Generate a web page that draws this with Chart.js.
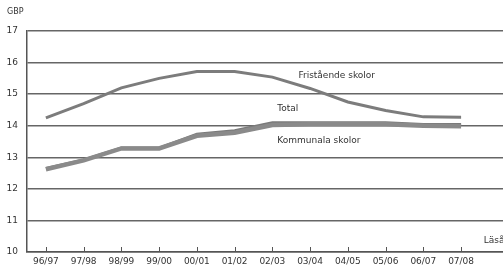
<!DOCTYPE html>
<html>
<head>
<meta charset="utf-8">
<script src="https://cdn.jsdelivr.net/npm/chart.js@4"></script>
<style>
  html, body { margin: 0; padding: 0; background: #fff; }
  #wrap { width: 503px; height: 274px; }
</style>
</head>
<body>
<div id="wrap"><canvas id="GraficaCanvas" width="503" height="274"></canvas></div>
<script>
const lasar = ["96/97", "97/98", "98/99", "99/00", "00/01", "01/02", "02/03", "03/04", "04/05", "05/06", "06/07", "07/08"];
const fristaende = [14.25, 14.7, 15.2, 15.5, 15.72, 15.72, 15.54, 15.18, 14.75, 14.48, 14.28, 14.27];
const total = [12.65, 12.92, 13.3, 13.3, 13.74, 13.85, 14.1, 14.1, 14.1, 14.1, 14.05, 14.05];
const kommunala = [12.62, 12.9, 13.28, 13.28, 13.68, 13.78, 14.02, 14.05, 14.05, 14.05, 14.0, 13.98];

const etiketter = [
  { text: "Fristående skolor", x: 6.69, y: 15.6 },
  { text: "Total", x: 6.13, y: 14.53 },
  { text: "Kommunala skolor", x: 6.13, y: 13.52 },
  { text: "Läsår", x: 11.6, y: 10.35 },
];

const punkter = (serie) => serie.map((v, i) => ({ x: i, y: v }));

const textPlugin = {
  id: "textPlugin",
  afterDraw(chart) {
    const { ctx, scales } = chart;
    ctx.save();
    ctx.fillStyle = "#333";
    ctx.font = "9px 'DejaVu Sans'";
    ctx.textBaseline = "middle";
    ctx.textAlign = "left";
    etiketter.forEach((e) => {
      ctx.fillText(e.text, scales.x.getPixelForValue(e.x), scales.y.getPixelForValue(e.y));
    });
    ctx.font = "8px 'DejaVu Sans'";
    ctx.fillText("GBP", 7, 12);
    // små streck uppåt från x-axeln
    const bottom = chart.chartArea.bottom;
    ctx.strokeStyle = "#555";
    ctx.lineWidth = 1;
    lasar.forEach((l, i) => {
      const px = Math.round(scales.x.getPixelForValue(i)) + 0.5;
      ctx.beginPath();
      ctx.moveTo(px, bottom);
      ctx.lineTo(px, bottom - 5);
      ctx.stroke();
    });
    ctx.restore();
  },
};

const ctx = document.getElementById("GraficaCanvas").getContext("2d");
new Chart(ctx, {
  type: "line",
  data: {
    datasets: [
      { label: "Kommunala skolor", data: punkter(kommunala), borderColor: "#8a8a8a", borderWidth: 4.5 },
      { label: "Total", data: punkter(total), borderColor: "#7a7a7a", borderWidth: 2.5 },
      { label: "Fristående skolor", data: punkter(fristaende), borderColor: "#7c7c7c", borderWidth: 3 },
    ],
  },
  options: {
    responsive: false,
    animation: false,
    layout: { padding: { top: 31, right: 0, left: 0, bottom: 0 } },
    elements: { point: { radius: 0 }, line: { tension: 0 } },
    plugins: { legend: { display: false }, tooltip: { enabled: false } },
    scales: {
      x: {
        type: "linear",
        min: -0.5,
        max: 12.11,
        afterBuildTicks: (scale) => {
          scale.ticks = lasar.map((l, i) => ({ value: i }));
        },
        afterFit: (scale) => { scale.height = 22; },
        ticks: {
          autoSkip: false,
          maxRotation: 0,
          padding: 4,
          color: "#333",
          font: { family: "DejaVu Sans", size: 9 },
          callback: (v) => lasar[v],
        },
        grid: { drawOnChartArea: false, drawTicks: false },
        border: { color: "#555", width: 1.5 },
      },
      y: {
        min: 10,
        max: 17,
        afterFit: (scale) => { scale.width = 27; },
        ticks: {
          stepSize: 1,
          padding: 9,
          color: "#333",
          font: { family: "DejaVu Sans", size: 9 },
        },
        grid: { color: "#666", lineWidth: 1.5, drawTicks: false },
        border: { color: "#555", width: 1.5 },
      },
    },
  },
  plugins: [textPlugin],
});
</script>
</body>
</html>
